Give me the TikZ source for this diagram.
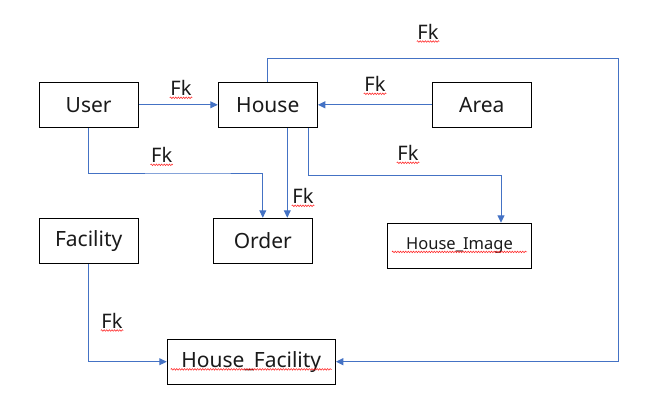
\documentclass[tikz,border=0pt]{standalone}
\usepackage{fontspec}
\setmainfont{Noto Sans}
\usetikzlibrary{arrows.meta,decorations.pathmorphing}
\definecolor{lnblue}{HTML}{4472C4}
\definecolor{txt}{HTML}{1A1A1A}
\tikzset{
  ent/.style={draw=black, line width=1.1pt, minimum width=99pt, minimum height=45pt,
    inner sep=0pt, font=\fontsize{21}{24}\selectfont, text=txt},
  fkl/.style={inner sep=0.5pt, font=\fontsize{20}{24}\selectfont, text=txt},
  conn/.style={draw=lnblue, line width=1pt, -{Triangle[length=7.5pt,width=7pt]}},
  squig/.style={draw=red!85!white, line width=0.55pt, decorate,
    decoration={snake, amplitude=0.8pt, segment length=2.6pt}}
}
\begin{document}
\begin{tikzpicture}[x=1pt,y=-1pt]
\useasboundingbox (0,0) rectangle (652,417);
% entities
\node[ent] (User) at (88.7,104.8) {User};
\node[ent] (House) at (267.8,104.8) {House};
\node[ent] (Area) at (481.8,104.8) {Area};
\node[ent] (Facility) at (88.7,240.8) {Facility};
\node[ent] (Order) at (262.8,240.8) {Order};
\node[ent, minimum width=168pt] (HF) at (251.3,361.7) {House\_Facility};
\node[ent, minimum width=144pt, font=\fontsize{16.5}{20}\selectfont] (HI) at (459.5,245.8) {House\_Image};
% helper coordinates
\coordinate (tr) at (618.7,58.3);
\coordinate (j1) at (200,173);
\coordinate (k) at (287.3,0);
\coordinate (j2) at (308.3,175);
\coordinate (j3) at (501,175);
% connectors
\draw[conn] (User.east) -- (House.west);
\draw[conn] (Area.west) -- (House.east);
\draw[conn] (House.north) |- (tr) |- (HF.east);
\draw[conn] (User.south) |- (j1) -| (Order.north);
\draw[conn] (House.south -| k) -- (Order.north -| k);
\draw[conn] (House.south -| j2) |- (j3) -- (HI.north -| j3);
\draw[conn] (Facility.south) |- (HF.west);
% labels
\node[fkl] (f1) at (428,31.7) {Fk};
\node[fkl] (f2) at (181,88) {Fk};
\node[fkl] (f3) at (375,84) {Fk};
\node[fkl] (f4) at (161.7,155) {Fk};
\node[fkl] (f5) at (303,196) {Fk};
\node[fkl] (f6) at (408,153) {Fk};
\node[fkl] (f7) at (112,320.7) {Fk};
% spell-check squiggles
\foreach \n in {f1,f2,f3,f4,f5,f6,f7}{
  \draw[squig] ([yshift=-2.2pt]\n.base west) -- ([yshift=-2.2pt]\n.base east);
}
\draw[squig] ([xshift=4pt,yshift=-2.2pt]HF.base west) -- ([xshift=-4pt,yshift=-2.2pt]HF.base east);
\draw[squig] ([xshift=5pt,yshift=-2.2pt]HI.base west) -- ([xshift=-5pt,yshift=-2.2pt]HI.base east);
\end{tikzpicture}
\end{document}
